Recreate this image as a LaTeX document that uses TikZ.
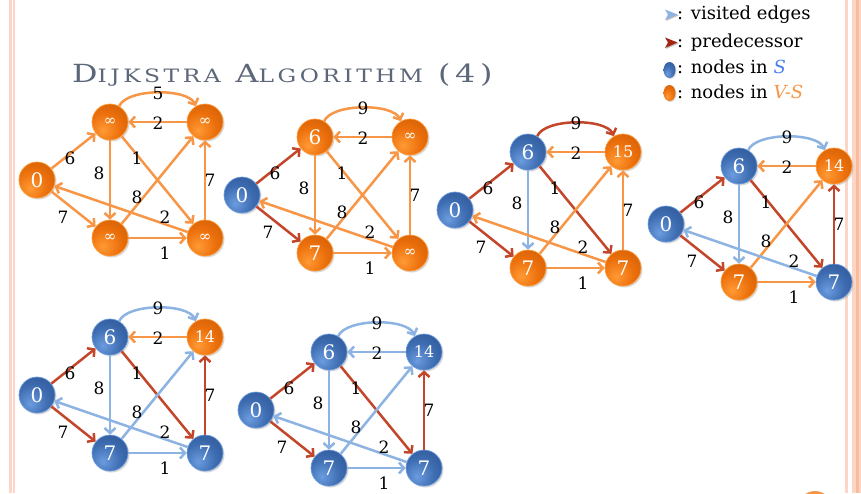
\documentclass[tikz,border=0pt]{standalone}
\usepackage{fontspec}
\usepackage{graphicx}
\setmainfont{DejaVu Serif}
\usetikzlibrary{arrows.meta,shadows,shapes.geometric}
\definecolor{oedge}{HTML}{F79646}
\definecolor{redge}{HTML}{C3462A}
\definecolor{bedge}{HTML}{8DB3E2}
\definecolor{titlec}{HTML}{5C6779}
\definecolor{bordc}{HTML}{FCD5C6}
\definecolor{bordo}{HTML}{F9BC9A}
\definecolor{olight}{HTML}{FF9A35}
\definecolor{omid}{HTML}{EC700C}
\definecolor{odark}{HTML}{B84E00}
\definecolor{blight}{HTML}{6C9CE0}
\definecolor{bmid}{HTML}{3E6DB2}
\definecolor{bdark}{HTML}{21427A}
\definecolor{sblue}{HTML}{4A7FF0}
\definecolor{predc}{HTML}{A32412}
\pgfdeclareradialshading{orball}{\pgfpoint{-10bp}{-12bp}}{color(0bp)=(olight); color(22bp)=(omid); color(58bp)=(odark); color(100bp)=(odark)}
\pgfdeclareradialshading{blball}{\pgfpoint{-10bp}{-12bp}}{color(0bp)=(blight); color(22bp)=(bmid); color(58bp)=(bdark); color(100bp)=(bdark)}
\newcommand\infsym{{\fontsize{15}{15}\selectfont ∞}}
\newcommand\twod[1]{{\fontsize{16}{16}\selectfont #1}}
\newcommand\titlefont{\fontsize{25}{25}\selectfont\addfontfeatures{LetterSpace=15}}
\newcommand\smallc[1]{{\fontsize{18.4}{18.4}\selectfont #1}}
\tikzset{
  gnode/.style={circle, minimum size=36pt, inner sep=0pt, text=white,
    font=\fontsize{20}{20}\selectfont,
    drop shadow={shadow xshift=1.5pt, shadow yshift=-1.5pt, opacity=0.3}},
  onode/.style={gnode, shading=orball, draw=olight, line width=0.7pt},
  bnode/.style={gnode, shading=blball, draw=blight, line width=0.7pt},
  ebase/.style={line width=2.5pt, -{Straight Barb[length=5pt,width=11pt]}},
  oe/.style={ebase, draw=oedge},
  re/.style={ebase, draw=redge},
  be/.style={ebase, draw=bedge},
  lbl/.style={font=\fontsize{17}{17}\selectfont, inner sep=0pt},
  legtext/.style={anchor=base west, inner sep=0pt, font=\fontsize{18}{18}\selectfont}
}
\newcommand\dgbody{%
  \node[\nS] (ns) at (0,0) {0};
  \node[\nU] (nu) at (73,-58) {\tU};
  \node[\nV] (nv) at (168,-58) {\tV};
  \node[\nX] (nx) at (73,58) {\tX};
  \node[\nY] (ny) at (168,58) {\tY};
  \draw[\eSU] (ns) -- (nu);
  \draw[\eSX] (ns) -- (nx);
  \draw[\eUV] (nu.60) .. controls +(8,-18) and +(-8,-18) .. (nv.120);
  \draw[\eVU] (nv) -- (nu);
  \draw[\eUX] (nu) -- (nx);
  \draw[\eUY] (nu) -- (ny);
  \draw[\eXV] (nx) -- (nv);
  \draw[\eXY] (nx) -- (ny);
  \draw[\eYV] (ny) -- (nv);
  \draw[\eYS] (ny) -- (ns);
  \node[lbl] (luv) at (121,-87) {\wUV};
  \node[lbl] (lvu) at (121,-57) {2};
  \node[lbl] (lsu) at (33,-22) {6};
  \node[lbl] (lux) at (62,-7) {8};
  \node[lbl] (luy) at (100,-22) {1};
  \node[lbl] (lxv) at (100,17) {8};
  \node[lbl] (lyv) at (173,0) {7};
  \node[lbl] (lys) at (128,37) {2};
  \node[lbl] (lsx) at (26,37) {7};
  \node[lbl] (lxy) at (128,73) {1};
}
\begin{document}
\begin{tikzpicture}[x=1pt,y=-1pt]
\useasboundingbox (0,0) rectangle (861,493);
\fill[white] (0,0) rectangle (861,493);
% side borders
\fill[bordc] (9.3,0) rectangle (11.5,493);
\fill[bordc] (12.8,0) rectangle (15.3,493);
\fill[bordc] (845,0) rectangle (848,493);
\fill[bordc] (852,0) rectangle (861,493);
\fill[bordo] (855.5,0) rectangle (858.5,493);
\fill[oedge] (815,508) circle (17);
% title
\node[anchor=base west, inner sep=0pt, text=titlec, font=\titlefont] (title) at (72,82)
  {\scalebox{1.27}[1]{D\smallc{IJKSTRA}\ A\smallc{LGORITHM}\ (4)}};
% legend
\fill[black!25] (666,10.5) -- (678.5,15.5) -- (666,21) -- (669,15.5) -- cycle;
\fill[bedge] (665,9.5) -- (677.5,14.5) -- (665,20) -- (668,14.5) -- cycle;
\fill[black!25] (666,38.5) -- (678.5,43.5) -- (666,49) -- (669,43.5) -- cycle;
\fill[predc] (665,37.5) -- (677.5,42.5) -- (665,48) -- (668,42.5) -- cycle;
\node[ellipse, minimum width=12pt, minimum height=16pt, inner sep=0pt, shading=blball,
  drop shadow={shadow xshift=1pt, shadow yshift=-1pt, opacity=0.3}] (li3) at (669.5,70) {};
\node[ellipse, minimum width=12pt, minimum height=16pt, inner sep=0pt, shading=orball,
  drop shadow={shadow xshift=1pt, shadow yshift=-1pt, opacity=0.3}] (li4) at (669.5,93) {};
\node[legtext] (l1) at (677,19) {: visited edges};
\node[legtext] (l2) at (677,47) {: predecessor};
\node[legtext] (l3) at (677,73) {: nodes in \textcolor{sblue}{\textit{S}}};
\node[legtext] (l4) at (677,98) {: nodes in \textcolor{oedge}{\textit{V-S}}};
% graph 1
\def\nS{onode}\def\nU{onode}\def\nV{onode}\def\nX{onode}\def\nY{onode}
\def\tU{\infsym}\def\tV{\infsym}\def\tX{\infsym}\def\tY{\infsym}
\def\eSU{oe}\def\eSX{oe}\def\eUV{oe}\def\eVU{oe}\def\eUX{oe}\def\eUY{oe}\def\eXV{oe}\def\eXY{oe}\def\eYV{oe}\def\eYS{oe}
\def\wUV{5}
\begin{scope}[shift={(37,180)}, name prefix=g1-]\dgbody\end{scope}
% graph 2
\def\nS{bnode}\def\nU{onode}\def\nV{onode}\def\nX{onode}\def\nY{onode}
\def\tU{6}\def\tV{\infsym}\def\tX{7}\def\tY{\infsym}
\def\eSU{re}\def\eSX{re}
\def\wUV{9}
\begin{scope}[shift={(242,195)}, name prefix=g2-]\dgbody\end{scope}
% graph 3
\def\nS{bnode}\def\nU{bnode}\def\nV{onode}\def\nX{onode}\def\nY{onode}
\def\tU{6}\def\tV{\twod{15}}\def\tX{7}\def\tY{7}
\def\eUV{re}\def\eUX{be}\def\eUY{re}
\begin{scope}[shift={(455,210)}, name prefix=g3-]\dgbody\end{scope}
% graph 4
\def\nS{bnode}\def\nU{bnode}\def\nV{onode}\def\nX{onode}\def\nY{bnode}
\def\tV{\twod{14}}
\def\eUV{be}\def\eYV{re}\def\eYS{be}
\begin{scope}[shift={(666,224)}, name prefix=g4-]\dgbody\end{scope}
% graph 5
\def\nX{bnode}
\def\eXV{be}\def\eXY{be}
\begin{scope}[shift={(37,395)}, name prefix=g5-]\dgbody\end{scope}
% graph 6
\def\nV{bnode}
\def\eVU{be}
\begin{scope}[shift={(256,410)}, name prefix=g6-]\dgbody\end{scope}
\end{tikzpicture}
\end{document}
